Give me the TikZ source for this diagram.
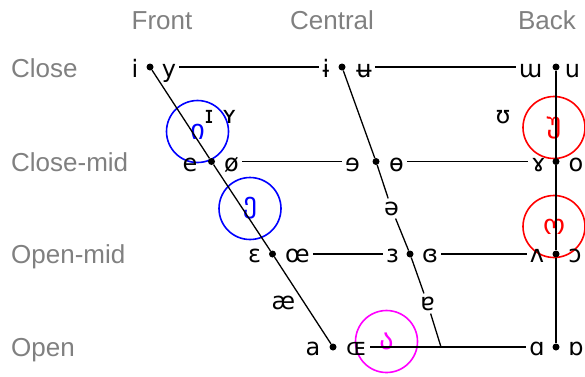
\documentclass[tikz,border=0pt]{standalone}
\usepackage{fontspec}
\setmainfont{Liberation Sans}
\newfontfamily\ipafont{DejaVu Sans}
\newfontfamily\geofont{DejaVu Sans}
\definecolor{labgray}{RGB}{128,128,128}
\definecolor{gblue}{RGB}{0,0,255}
\definecolor{gred}{RGB}{255,0,0}
\definecolor{gmag}{RGB}{255,0,255}
\begin{document}
\begin{tikzpicture}[x=1pt,y=-1pt,
  lab/.style={text=labgray, font=\fontsize{26}{30}\selectfont, inner sep=0},
  sym/.style={font=\ipafont\fontsize{24}{28}\selectfont, inner sep=3pt, anchor=base},
  dotn/.style={circle, fill=black, inner sep=0, minimum size=7pt},
  conn/.style={line width=1.3pt},
  ring/.style={circle, draw, line width=1.6pt, minimum size=62pt, inner sep=0,
               font=\geofont\fontsize{28}{32}\selectfont},
]
\useasboundingbox (0,0) rectangle (585,376);

% axis labels
\node[lab, anchor=base] (front) at (162,29) {Front};
\node[lab, anchor=base] (central) at (332,29) {Central};
\node[lab, anchor=base] (back) at (547,29) {Back};
\node[lab, anchor=base west] (close) at (11,77) {Close};
\node[lab, anchor=base west] (closemid) at (11,171) {Close-mid};
\node[lab, anchor=base west] (openmid) at (11,263) {Open-mid};
\node[lab, anchor=base west] (open) at (11,356) {Open};

% Georgian rings
\node[ring, gblue, text=gblue] (gi) at (197.5,131.5) {\raisebox{-4pt}{ი}};
\node[ring, gblue, text=gblue] (ge) at (250,208.5) {\raisebox{-6pt}{ე}};
\node[ring, gred, text=gred] (gu) at (554,127.5) {\raisebox{-6pt}{უ}};
\node[ring, gred, text=gred] (go) at (554,226.5) {\raisebox{-4pt}{ო}};
\node[ring, gmag, text=gmag] (ga) at (386.5,341.5) {\raisebox{-3pt}{ა}};

% dots
\node[dotn] (f1) at (150,67) {};
\node[dotn] (f2) at (211.5,161.5) {};
\node[dotn] (f3) at (272.5,254) {};
\node[dotn] (f4) at (333,347) {};
\node[dotn] (c1) at (342,67) {};
\node[dotn] (c2) at (376,161.5) {};
\node[dotn] (c3) at (410,254) {};
\coordinate (cb) at (441,347);
\node[dotn] (b1) at (556,67) {};
\node[dotn] (b2) at (556,161.5) {};
\node[dotn] (b3) at (556,254) {};
\node[dotn] (b4) at (556,347) {};

% symbols: close
\node[sym] (si) at (135,77) {i};
\node[sym] (sy) at (169,77) {y};
\node[sym] (sib) at (326,77) {ɨ};
\node[sym] (sub) at (364,77) {ʉ};
\node[sym] (smu) at (530.5,77) {ɯ};
\node[sym] (su) at (572.5,77) {u};
% near-close
\node[sym] (sI) at (209,123) {ɪ};
\node[sym] (sY) at (229.5,123) {ʏ};
\node[sym] (sU) at (503,123) {ʊ};
% close-mid
\node[sym] (se) at (190,171) {e};
\node[sym] (soe) at (231.5,171) {ø};
\node[sym] (srevE) at (352.5,171) {ɘ};
\node[sym] (sbo) at (396.5,171) {ɵ};
\node[sym] (sgam) at (538.5,171) {ɤ};
\node[sym] (so) at (576,171) {o};
% mid
\node[sym] (sschwa) at (391.5,215) {ə};
% open-mid
\node[sym] (seps) at (254.5,262) {ɛ};
\node[sym] (soel) at (297.5,262) {œ};
\node[sym] (srevEps) at (392.5,262) {ɜ};
\node[sym] (sclEps) at (430,262) {ɞ};
\node[sym] (swedge) at (537,262) {ʌ};
\node[sym] (sopo) at (575,262) {ɔ};
% near-open
\node[sym] (sae) at (283.5,309) {æ};
\node[sym] (sturna) at (427.5,310) {ɐ};
% open
\node[sym] (sa) at (313,355.5) {a};
\node[sym] (soes) at (356.5,355.5) {ɶ};
\node[sym] (sscra) at (537,355.5) {ɑ};
\node[sym] (sturnscra) at (576,355.5) {ɒ};

% connectors
\draw[conn] (f1) -- (f2) -- (f3) -- (f4);
\draw[conn] (c1) -- (c2) -- (sschwa) -- (c3) -- (sturna) -- (cb);
\draw[conn] (b1) -- (b2) -- (b3) -- (b4);
\draw[conn] (sy.east |- f1) -- (sib.west |- f1);
\draw[conn] (sub.east |- c1) -- (smu.west |- b1);
\draw[conn] (soe.east |- f2) -- (srevE.west |- c2);
\draw[conn] (sbo.east |- c2) -- (sgam.west |- b2);
\draw[conn] (soel.east |- f3) -- (srevEps.west |- c3);
\draw[conn] (sclEps.east |- c3) -- (swedge.west |- b3);
\draw[conn] (soes.east |- f4) -- (sscra.west |- b4);
\end{tikzpicture}
\end{document}
